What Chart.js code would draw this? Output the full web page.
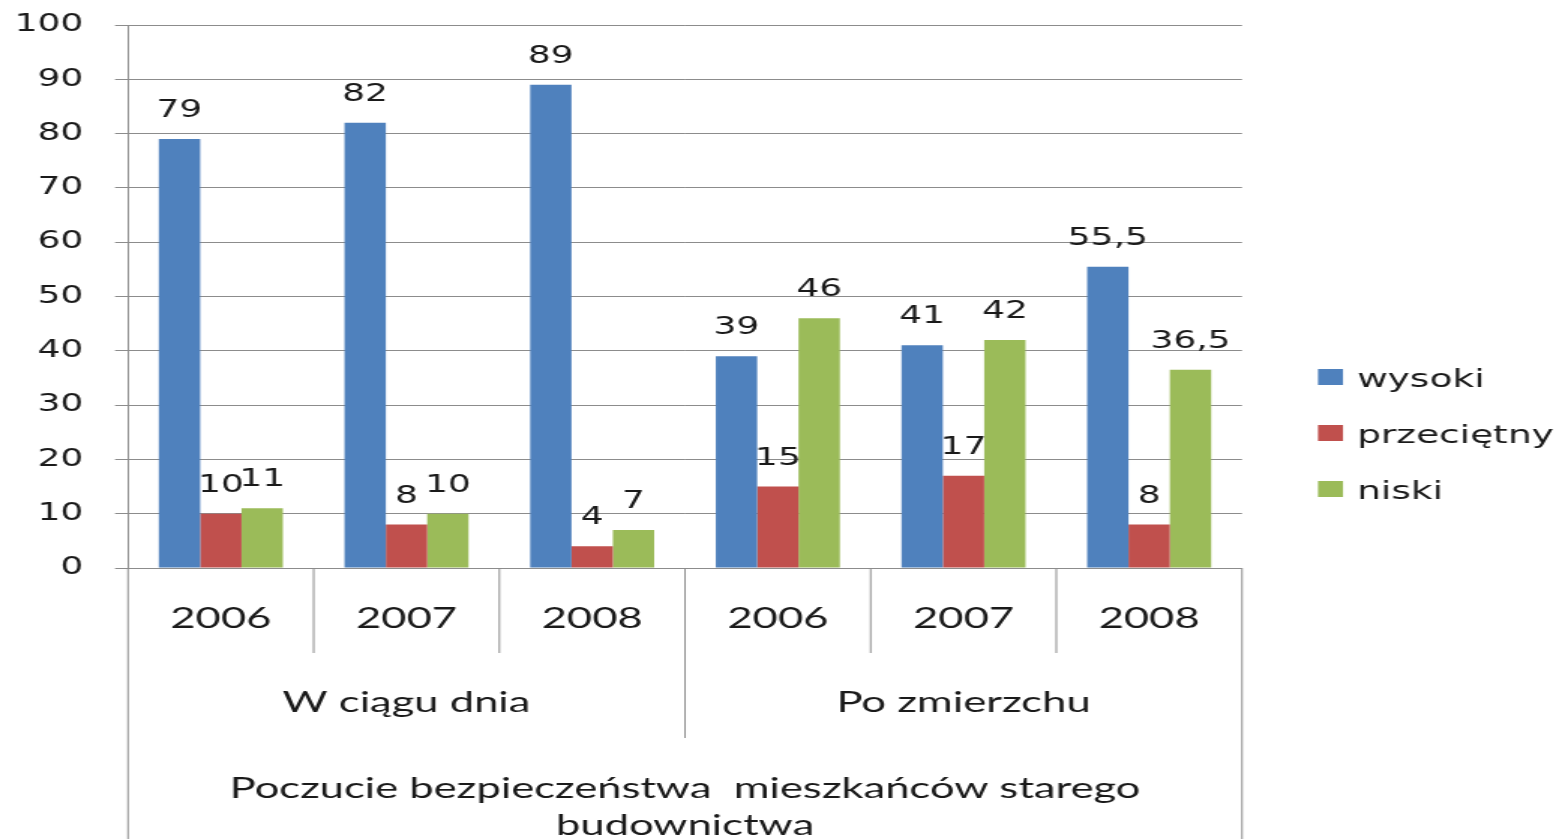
<!DOCTYPE html>
<html><head><meta charset="utf-8">
<script src="https://cdn.jsdelivr.net/npm/chart.js@4"></script>
<style>
html,body{margin:0;padding:0;background:#fff;overflow:hidden}
</style></head>
<body><canvas id="c" width="1041" height="839" style="display:block;width:1562px;height:839px"></canvas>
<script>
// ---- data ----
const years = ['2006','2007','2008','2006','2007','2008'];
const groups = ['W ciągu dnia','Po zmierzchu'];
const groupSizes = [3,3];
const titleLines = ['Poczucie bezpieczeństwa  mieszkańców starego','budownictwa'];
const seriesNames = ['wysoki','przeciętny','niski'];
const wysoki = [79,82,89,39,41,55.5];
const przecietny = [10,8,4,15,17,8];
const niski = [11,10,7,46,42,36.5];
const yMin = 0, yMax = 100, yStep = 10;

// ---- styles ----
const colors = ['#4F81BD','#C0504D','#9BBB59'];
const gridColor = '#8c8c8c';
const textColor = '#1a1a1a';
const SX = 1562/1041; // horizontal stretch of the canvas
const numFont = 'DejaVu Sans';
const catFont = 'Lato';

const fmt = v => String(v).replace('.', ',');

const multiAxis = {
  id: 'multiAxis',
  afterDatasetsDraw(chart) {
    const ctx = chart.ctx;
    ctx.save();
    ctx.fillStyle = textColor;
    ctx.font = `24px "${numFont}"`;
    ctx.textAlign = 'center';
    ctx.textBaseline = 'alphabetic';
    chart.data.datasets.forEach((ds, di) => {
      const meta = chart.getDatasetMeta(di);
      meta.data.forEach((el, i) => {
        ctx.fillText(fmt(ds.data[i]), el.x, el.y - 22);
      });
    });
    ctx.restore();
  },
  afterDraw(chart) {
    const ctx = chart.ctx;
    const xs = chart.scales.x;
    const area = chart.chartArea;
    const n = chart.data.labels.length;
    const w = (xs.right - xs.left) / n;
    ctx.save();
    ctx.strokeStyle = gridColor;
    ctx.lineWidth = 1;
    const gb = [];
    let acc = 0;
    groupSizes.forEach(s => { acc += s; gb.push(acc); });
    for (let i = 0; i <= n; i++) {
      let yEnd = 653;
      if (i === 0 || i === n) yEnd = chart.height;
      else if (gb.includes(i)) yEnd = 738;
      const x = xs.left + i * w;
      ctx.beginPath();
      ctx.moveTo(x, area.bottom);
      ctx.lineTo(x, yEnd);
      ctx.stroke();
    }
    ctx.fillStyle = textColor;
    ctx.textAlign = 'center';
    ctx.textBaseline = 'alphabetic';
    ctx.font = `29px "${catFont}"`;
    years.forEach((y, i) => {
      ctx.fillText(y, xs.left + (i + 0.5) * w, 628);
    });
    let start = 0;
    groups.forEach((g, gi) => {
      const cx = xs.left + (start + groupSizes[gi] / 2) * w;
      ctx.fillText(g, cx, 712);
      start += groupSizes[gi];
    });
    const mid = (xs.left + xs.right) / 2;
    ctx.fillText(titleLines[0], mid, 798);
    ctx.fillText(titleLines[1], mid, 835);
    const lx = 1318 / SX, tx = 1357 / SX, bw = 25 / SX;
    const baselines = [387, 443, 499];
    ctx.textAlign = 'left';
    ctx.font = `25px "${numFont}"`;
    chart.data.datasets.forEach((ds, di) => {
      const b = baselines[di];
      ctx.fillStyle = ds.backgroundColor;
      ctx.fillRect(lx, b - 18, bw, 16);
      ctx.fillStyle = textColor;
      ctx.fillText(ds.label, tx, b);
    });
    ctx.restore();
  }
};

const chartLeft = 128 / SX;
const chartRight = 1242 / SX;

new Chart(document.getElementById('c'), {
  type: 'bar',
  data: {
    labels: years,
    datasets: [
      { label: seriesNames[0], data: wysoki, backgroundColor: colors[0] },
      { label: seriesNames[1], data: przecietny, backgroundColor: colors[1] },
      { label: seriesNames[2], data: niski, backgroundColor: colors[2] }
    ]
  },
  options: {
    responsive: false,
    animation: false,
    devicePixelRatio: 1,
    datasets: { bar: { categoryPercentage: 0.668, barPercentage: 1 } },
    layout: { padding: { top: 25, right: 1041 - chartRight, bottom: 839 - 568, left: 0 } },
    plugins: { legend: { display: false }, tooltip: { enabled: false } },
    scales: {
      x: { display: false },
      y: {
        min: yMin, max: yMax,
        afterFit(scale) { scale.width = chartLeft; scale.paddingTop = 0; scale.paddingBottom = 0; },
        ticks: { stepSize: yStep, padding: 21, color: textColor, font: { family: numFont, size: 24 } },
        grid: { color: gridColor, lineWidth: 1, tickLength: 13 / SX },
        border: { color: gridColor, width: 1 }
      }
    }
  },
  plugins: [multiAxis]
});
</script>
</body></html>
